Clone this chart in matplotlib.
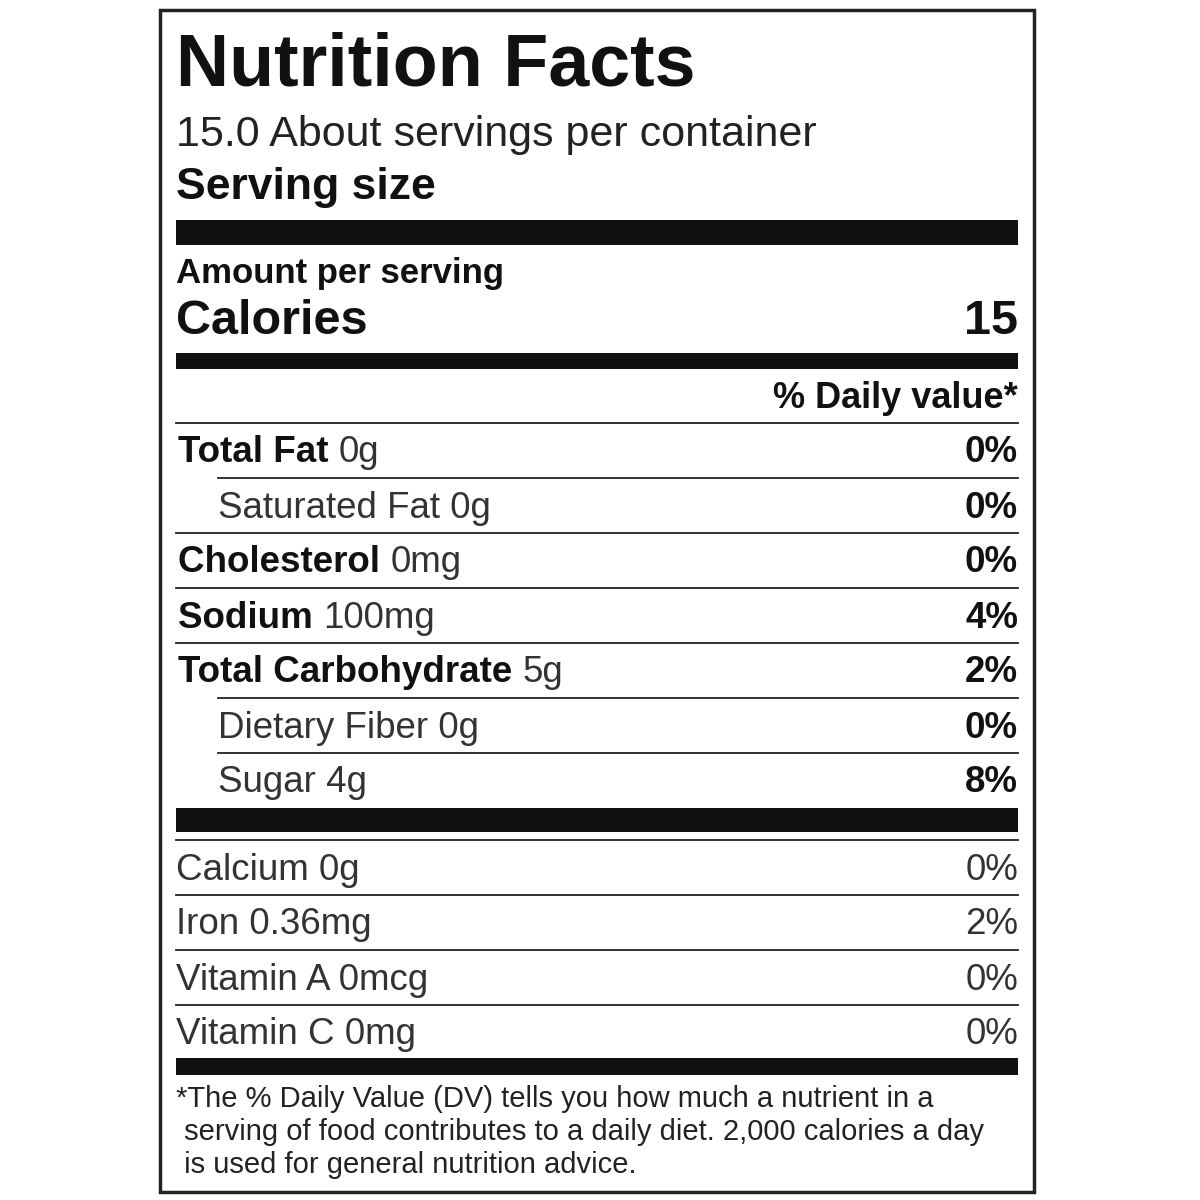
import matplotlib.pyplot as plt
from matplotlib.patches import Rectangle

plt.rcParams['font.family'] = ['Liberation Sans', 'DejaVu Sans']

servings = "15.0"
calories = "15"
nutrients = ["Total Fat", "Saturated Fat", "Cholesterol", "Sodium",
             "Total Carbohydrate", "Dietary Fiber", "Sugar"]
amounts = ["0g", "0g", "0mg", "100mg", "5g", "0g", "4g"]
daily = ["0%", "0%", "0%", "4%", "2%", "0%", "8%"]
indented = [False, True, False, False, False, True, True]
vitamins = ["Calcium 0g", "Iron 0.36mg", "Vitamin A 0mcg", "Vitamin C 0mg"]
vit_daily = ["0%", "2%", "0%", "0%"]
footnote = ["*The % Daily Value (DV) tells you how much a nutrient in a",
            " serving of food contributes to a daily diet. 2,000 calories a day",
            " is used for general nutrition advice."]

fig = plt.figure(figsize=(12, 12), dpi=100)
ax = fig.add_axes([0, 0, 1, 1])
ax.set_xlim(0, 1200)
ax.set_ylim(1200, 0)
ax.axis('off')

L, R = 176, 1018
ax.add_patch(Rectangle((160, 10), 874, 1182, fill=False, lw=2.5, ec='#222'))


def bar(y0, y1):
    ax.add_patch(Rectangle((L, y0), R - L, y1 - y0, color='#111', lw=0))


def line(y, x0=L):
    ax.plot([x0, R], [y, y], color='#222', lw=1.3)


ax.text(L, 66, "Nutrition Facts", fontsize=53, weight='bold', va='center', color='#111')
ax.text(L, 135, f"{servings} About servings per container", fontsize=31, va='center', color='#222')
ax.text(L, 188, "Serving size", fontsize=32, weight='bold', va='center', color='#111')
bar(220, 245)
ax.text(L, 274, "Amount per serving", fontsize=25, weight='bold', va='center', color='#111')
ax.text(L, 322, "Calories", fontsize=35, weight='bold', va='center', color='#111')
ax.text(R, 322, calories, fontsize=35, weight='bold', va='center', ha='right', color='#111')
bar(353, 369)
ax.text(R, 398, "% Daily value*", fontsize=26, weight='bold', va='center', ha='right', color='#111')
line(423)

y = 453
for i, (n, a, d, ind) in enumerate(zip(nutrients, amounts, daily, indented)):
    x = 218 if ind else 178
    if ind:
        ax.text(x, y, f"{n} {a}", fontsize=26.5, va='center', color='#333')
    else:
        t = ax.text(x, y, n + " ", fontsize=26.5, weight='bold', va='center', color='#111')
        fig.canvas.draw()
        bb = t.get_window_extent().transformed(ax.transData.inverted())
        ax.text(bb.x1, y, a, fontsize=26.5, va='center', color='#333')
    ax.text(R, y, d, fontsize=26.5, weight='bold', va='center', ha='right', color='#111')
    if i < len(nutrients) - 1:
        line(y + 25, 218 if indented[i + 1] else L)
    y += 55

bar(808, 832)
line(840)
y = 870
for i, (v, d) in enumerate(zip(vitamins, vit_daily)):
    ax.text(L, y, v, fontsize=26.5, va='center', color='#333')
    ax.text(R, y, d, fontsize=26.5, va='center', ha='right', color='#333')
    if i < len(vitamins) - 1:
        line(y + 25)
    y += 55
bar(1058, 1075)

for k, f in enumerate(footnote):
    ax.text(L, 1099 + 33 * k, f, fontsize=21, va='center', color='#222')

fig.savefig("out.png", dpi=100)
